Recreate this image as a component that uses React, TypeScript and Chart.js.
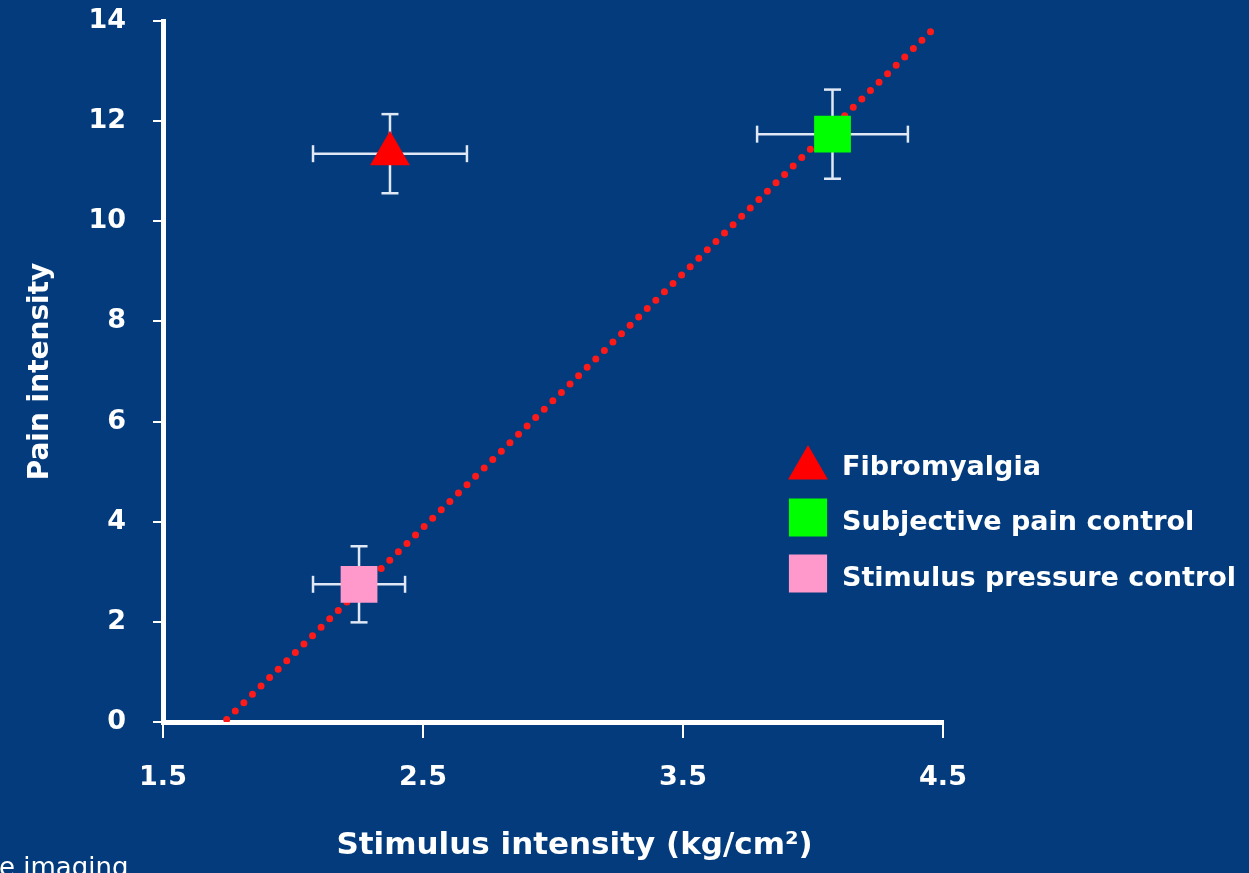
import React, { useEffect, useRef } from 'react';
import { Chart, registerables } from 'chart.js';
import { drawPoint } from 'chart.js/helpers';

Chart.register(...registerables);

// ---------- data ----------
const seriesNames = ['Fibromyalgia', 'Subjective pain control', 'Stimulus pressure control'];
const stimulusMeans = [2.373, 4.075, 2.254];
const stimulusErrors = [0.296, 0.29, 0.177];
const painMeans = [11.35, 11.74, 2.75];
const painErrors = [0.79, 0.89, 0.76];
const lineStimulus = [1.745, 4.465];
const linePain = [0.05, 13.85];
const xTickValues = [1.5, 2.5, 3.5, 4.5];
const xTickLabels = ['1.5', '2.5', '3.5', '4.5'];
const yTickValues = [0, 2, 4, 6, 8, 10, 12, 14];
const yTickLabels = ['0', '2', '4', '6', '8', '10', '12', '14'];
const xAxisTitle = 'Stimulus intensity (kg/cm\u00b2)';
const yAxisTitle = 'Pain intensity';
const footnote = 'e imaging';

// ---------- styles ----------
const BG = '#033b7c';
const FONT = '"DejaVu Sans", "Liberation Sans", sans-serif';
const markerColors = ['#ff0000', '#00ff00', '#ff99cc'];
const markerStyles = ['triangle', 'rect', 'rect'];
const markerRadii = [23, 26, 26];
const errorColor = '#dfe8f4';

const legendPlugin = {
  id: 'insideLegend',
  afterDraw(chart: any) {
    const ctx = chart.ctx as CanvasRenderingContext2D;
    ctx.save();
    const baselines = [475, 530, 586];
    chart.data.datasets.forEach((ds: any, i: number) => {
      if (!ds.isLegendEntry) return;
      const base = baselines[i];
      const mid = base - 9.5;
      const isTri = ds.pointStyle === 'triangle';
      ctx.fillStyle = ds.backgroundColor;
      drawPoint(
        ctx,
        { pointStyle: ds.pointStyle, radius: isTri ? 23 : 27, rotation: 0, borderWidth: 0 } as any,
        808,
        isTri ? mid + 2.5 : mid - 3
      );
      ctx.fillStyle = '#ffffff';
      ctx.font = `bold 27px ${FONT}`;
      ctx.textBaseline = 'alphabetic';
      ctx.textAlign = 'left';
      ctx.fillText(ds.label, 842, base);
    });
    ctx.fillStyle = '#ffffff';
    ctx.font = `26px ${FONT}`;
    ctx.textBaseline = 'alphabetic';
    ctx.textAlign = 'left';
    ctx.fillText(footnote, -1, 876);
    ctx.restore();
  },
};

export default function App() {
  const ref = useRef<HTMLCanvasElement>(null);

  useEffect(() => {
    const canvas = ref.current;
    if (!canvas) return;

    const markerDatasets = seriesNames.map((name, i) => ({
      type: 'scatter' as const,
      label: name,
      isLegendEntry: true,
      data: [{ x: stimulusMeans[i], y: painMeans[i] }],
      pointStyle: markerStyles[i],
      pointRadius: markerRadii[i],
      pointHoverRadius: markerRadii[i],
      backgroundColor: markerColors[i],
      borderColor: markerColors[i],
      pointBorderWidth: 0,
      borderWidth: 0,
    }));

    const hBars = seriesNames.map((name, i) => ({
      type: 'scatter' as const,
      label: name + ' x-error',
      data: [
        { x: stimulusMeans[i] - stimulusErrors[i], y: painMeans[i] },
        { x: stimulusMeans[i] + stimulusErrors[i], y: painMeans[i] },
      ],
      showLine: true,
      borderColor: errorColor,
      borderWidth: 2.5,
      pointStyle: 'line',
      pointRotation: 90,
      pointRadius: 8.5,
      pointBorderColor: errorColor,
      pointBorderWidth: 2.5,
      backgroundColor: errorColor,
    }));

    const vBars = seriesNames.map((name, i) => ({
      type: 'scatter' as const,
      label: name + ' y-error',
      data: [
        { x: stimulusMeans[i], y: painMeans[i] - painErrors[i] },
        { x: stimulusMeans[i], y: painMeans[i] + painErrors[i] },
      ],
      showLine: true,
      borderColor: errorColor,
      borderWidth: 2.5,
      pointStyle: 'line',
      pointRotation: 0,
      pointRadius: 8.5,
      pointBorderColor: errorColor,
      pointBorderWidth: 2.5,
      backgroundColor: errorColor,
    }));

    const trend = {
      type: 'line' as const,
      label: 'trend',
      data: lineStimulus.map((x, i) => ({ x, y: linePain[i] })),
      showLine: true,
      borderColor: '#ff1a1a',
      borderWidth: 7,
      borderDash: [0, 12],
      borderCapStyle: 'round' as const,
      pointRadius: 0,
      fill: false,
      tension: 0,
    };

    const chart = new Chart(canvas, {
      type: 'scatter',
      data: { datasets: [...markerDatasets, trend, ...vBars, ...hBars] as any },
      options: {
        responsive: false,
        animation: false,
        events: [],
        layout: { autoPadding: false, padding: { top: 21, right: 306, left: 0, bottom: 0 } },
        plugins: {
          legend: { display: false },
          tooltip: { enabled: false },
        },
        scales: {
          x: {
            type: 'linear',
            min: 1.5,
            max: 4.5,
            afterBuildTicks: (s: any) => {
              s.ticks = xTickValues.map((v) => ({ value: v }));
            },
            afterFit: (s: any) => {
              s.height = 151;
              s.paddingLeft = 0;
              s.paddingRight = 0;
            },
            ticks: {
              color: '#ffffff',
              font: { family: FONT, size: 27, weight: 'bold' },
              padding: 24,
              maxRotation: 0,
              autoSkip: false,
              callback: (v: any) => xTickLabels[xTickValues.indexOf(Number(v))] ?? '',
            },
            grid: {
              drawOnChartArea: false,
              drawTicks: true,
              tickLength: 16,
              color: '#ffffff',
              tickColor: '#ffffff',
              tickWidth: 2,
              lineWidth: 2,
            },
            border: { display: true, color: '#ffffff', width: 5 },
            title: {
              display: true,
              text: '\u00a0\u00a0\u00a0\u00a0' + xAxisTitle,
              color: '#ffffff',
              font: { family: FONT, size: 31, weight: 'bold' },
              padding: { top: 0, bottom: 8 },
            },
          },
          y: {
            type: 'linear',
            min: 0,
            max: 14,
            afterBuildTicks: (s: any) => {
              s.ticks = yTickValues.map((v) => ({ value: v }));
            },
            afterFit: (s: any) => {
              s.width = 163;
              s.paddingTop = 0;
              s.paddingBottom = 0;
            },
            ticks: {
              color: '#ffffff',
              font: { family: FONT, size: 27, weight: 'bold' },
              padding: 27,
              autoSkip: false,
              callback: (v: any) => yTickLabels[yTickValues.indexOf(Number(v))] ?? '',
            },
            grid: {
              drawOnChartArea: false,
              drawTicks: true,
              tickLength: 10,
              color: '#ffffff',
              tickColor: '#ffffff',
              tickWidth: 2,
              lineWidth: 2,
            },
            border: { display: true, color: '#ffffff', width: 5 },
            title: {
              display: true,
              text: yAxisTitle,
              color: '#ffffff',
              font: { family: FONT, size: 28, weight: 'bold' },
              padding: { top: 23.5, bottom: 0 },
            },
          },
        },
      },
      plugins: [legendPlugin],
    });

    return () => chart.destroy();
  }, []);

  return (
    <div
      style={{
        position: 'fixed',
        left: 0,
        top: 0,
        width: 1249,
        height: 873,
        background: BG,
        overflow: 'hidden',
      }}
    >
      <canvas ref={ref} width={1249} height={873} style={{ display: 'block' }} />
    </div>
  );
}
